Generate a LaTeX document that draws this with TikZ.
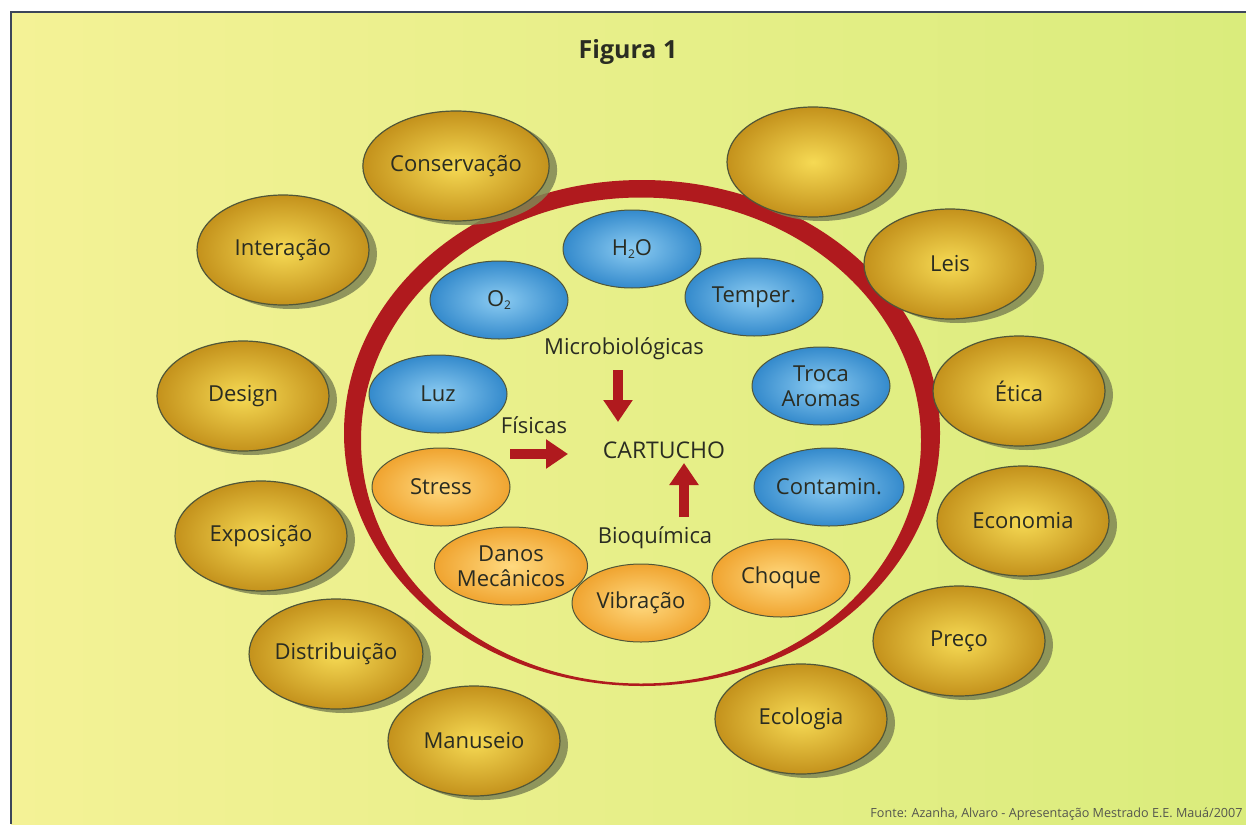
\documentclass[tikz,border=0pt]{standalone}
\usepackage{fontspec}
\setmainfont{Open Sans}
\usetikzlibrary{shapes.geometric,shadows,arrows.meta}
\definecolor{bgL}{RGB}{244,242,150}
\definecolor{bgR}{RGB}{218,236,124}
\definecolor{goldIn}{RGB}{246,218,84}
\definecolor{goldOut}{RGB}{196,146,28}
\definecolor{blueIn}{RGB}{140,204,242}
\definecolor{blueOut}{RGB}{52,138,204}
\definecolor{orIn}{RGB}{255,218,128}
\definecolor{orOut}{RGB}{240,164,48}
\definecolor{ringred}{RGB}{176,26,30}
\definecolor{shadowc}{RGB}{128,134,84}
\definecolor{edgec}{RGB}{80,86,56}
\definecolor{txt}{RGB}{42,44,34}
\definecolor{framec}{RGB}{60,70,90}
\newcommand{\sub}[1]{\raisebox{-1.2pt}{\fontsize{6}{6}\selectfont #1}}
\tikzset{
  lbl/.style={font=\fontsize{11}{13}\selectfont, text=txt, align=center, inner sep=0},
  goldov/.style={ellipse, minimum width=86pt, minimum height=55pt, inner sep=0,
    draw=edgec, line width=0.6pt, inner color=goldIn, outer color=goldOut,
    drop shadow={shadow xshift=4pt, shadow yshift=-2pt, fill=shadowc, opacity=0.85},
    font=\fontsize{11}{13}\selectfont, text=txt, align=center},
  blueov/.style={ellipse, minimum width=69pt, minimum height=39pt, inner sep=0,
    draw=edgec, line width=0.5pt, inner color=blueIn, outer color=blueOut,
    font=\fontsize{11}{12.5}\selectfont, text=txt, align=center},
  orov/.style={ellipse, minimum width=69pt, minimum height=39pt, inner sep=0,
    draw=edgec, line width=0.5pt, inner color=orIn, outer color=orOut,
    font=\fontsize{11}{12.5}\selectfont, text=txt, align=center},
  redarrow/.style={draw=ringred, line width=5pt,
    -{Triangle[length=11pt,width=14pt,fill=ringred]}}
}
\begin{document}
\begin{tikzpicture}[x=0.5pt,y=-0.5pt]
\useasboundingbox (0,0) rectangle (1246,824);
\clip (0,0) rectangle (1246,824);
\fill[white] (0,0) rectangle (1246,824);
\shade[left color=bgL, right color=bgR] (11,12) rectangle (1246,824);
\draw[framec, line width=1pt] (11,824) -- (11,12) -- (1246,12);

% ring
\fill[ringred, even odd rule] (642,433) ellipse [x radius=298, y radius=253]
  (641,440.5) ellipse [x radius=280, y radius=243];

% title
\node[font=\fontsize{12.5}{14}\selectfont\bfseries, text=txt] (title) at (628,52) {Figura 1};

% outer gold ellipses
\node[goldov] (cons) at (456,166) {Conservação};
\node[goldov] (blank) at (813,162) {};
\node[goldov] (inter) at (283,250) {Interação};
\node[goldov] (leis) at (950,264) {Leis};
\node[goldov] (design) at (243,396) {Design};
\node[goldov] (etica) at (1019,391) {Ética};
\node[goldov] (expo) at (261,536) {Exposição};
\node[goldov] (econ) at (1023,521) {Economia};
\node[goldov] (distr) at (336,654) {Distribuição};
\node[goldov] (preco) at (959,641) {Preço};
\node[goldov] (manus) at (474,741) {Manuseio};
\node[goldov] (ecol) at (801,719) {Ecologia};

% blue ellipses
\node[blueov] (h2o) at (632,249) {H\sub{2}O};
\node[blueov] (o2) at (499,300) {O\sub{2}};
\node[blueov] (temp) at (754,297) {Temper.};
\node[blueov] (luz) at (438,394) {Luz};
\node[blueov] (troca) at (821,386) {Troca\\Aromas};
\node[blueov] (cont) at (829,487) {Contamin.};

% orange ellipses
\node[orov] (stress) at (441,487) {Stress};
\node[orov] (danos) at (511,566) {Danos\\Mecânicos};
\node[orov] (vibr) at (641,603) {Vibração};
\node[orov] (choq) at (781,578) {Choque};

% central labels
\node[lbl] (micro) at (624,349) {Microbiológicas};
\node[lbl] (fis) at (534,425) {Físicas};
\node[lbl, font=\fontsize{11.5}{13}\selectfont] (cart) at (664,450) {CARTUCHO};
\node[lbl] (bioq) at (655,538) {Bioquímica};

\coordinate (mA) at (618,370);
\coordinate (mB) at (618,422);
\coordinate (fA) at (510,454);
\coordinate (fB) at (568,454);
\coordinate (bA) at (684,517);
\coordinate (bB) at (684,463);
\draw[redarrow] (mA) -- (mB);
\draw[redarrow] (fA) -- (fB);
\draw[redarrow] (bA) -- (bB);

% source
\node[anchor=east, font=\fontsize{6.3}{7}\selectfont, text=txt!80, inner sep=0] (src) at (1243,814)
  {Fonte: Azanha, Alvaro - Apresentação Mestrado E.E. Mauá/2007};
\end{tikzpicture}
\end{document}
